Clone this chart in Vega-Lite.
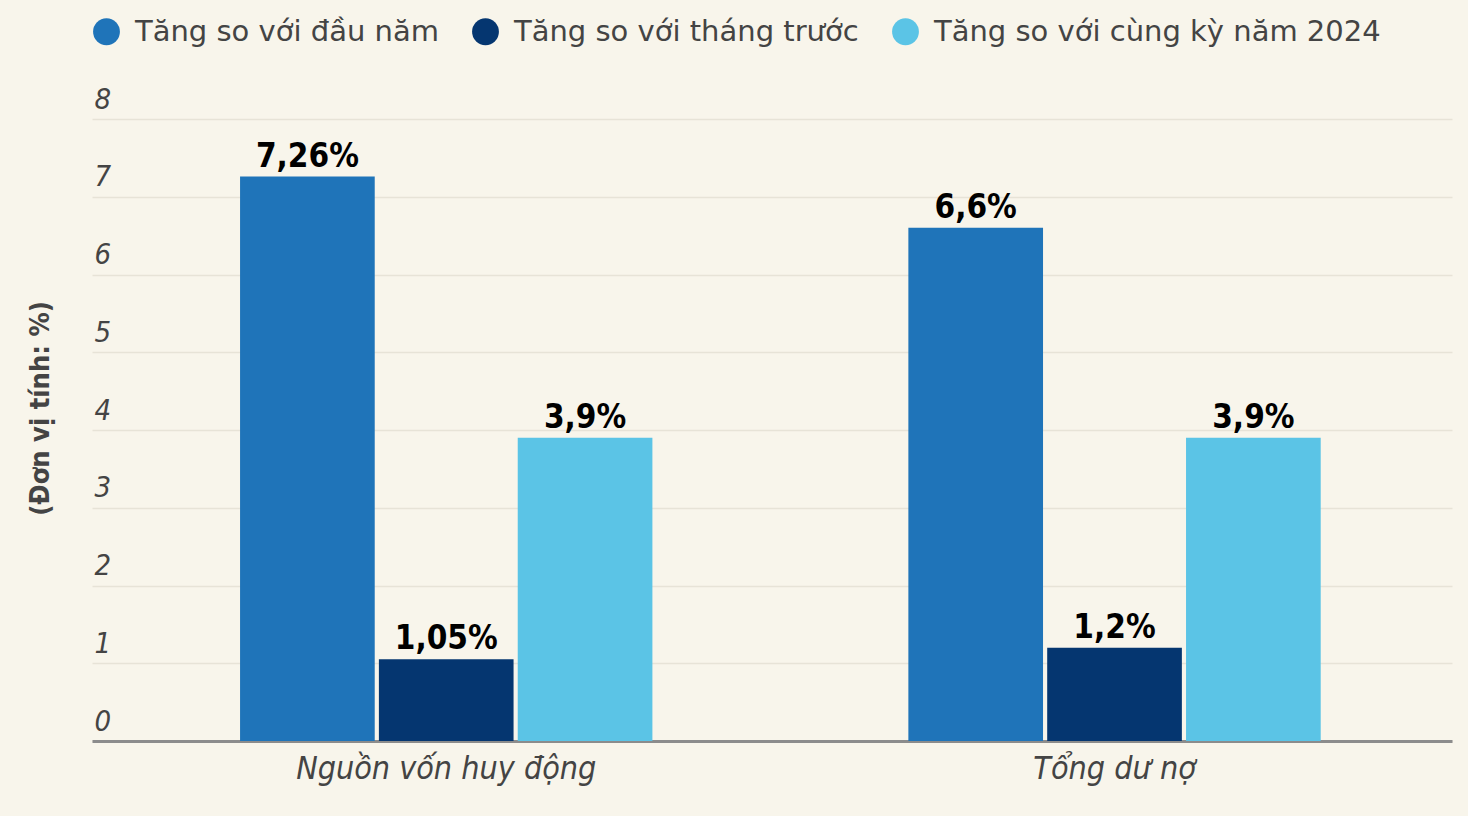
{
  "$schema": "https://vega.github.io/schema/vega-lite/v6.json",
  "width": 1360,
  "height": 622,
  "autosize": {"type": "none"},
  "padding": {"left": 92, "top": 119, "right": 16, "bottom": 75},
  "background": "#f8f5eb",
  "config": {
    "view": {"stroke": null},
    "font": "Open Sans"
  },
  "data": {
    "values": [
      {"nhom": "Nguồn vốn huy động", "chi_tieu": "Tăng so với đầu năm", "gia_tri": 7.26},
      {"nhom": "Nguồn vốn huy động", "chi_tieu": "Tăng so với tháng trước", "gia_tri": 1.05},
      {"nhom": "Nguồn vốn huy động", "chi_tieu": "Tăng so với cùng kỳ năm 2024", "gia_tri": 3.9},
      {"nhom": "Tổng dư nợ", "chi_tieu": "Tăng so với đầu năm", "gia_tri": 6.6},
      {"nhom": "Tổng dư nợ", "chi_tieu": "Tăng so với tháng trước", "gia_tri": 1.2},
      {"nhom": "Tổng dư nợ", "chi_tieu": "Tăng so với cùng kỳ năm 2024", "gia_tri": 3.9}
    ]
  },
  "transform": [
    {"calculate": "replace(format(datum.gia_tri, '.2~f'), '.', ',') + '%'", "as": "nhan"}
  ],
  "encoding": {
    "x": {
      "field": "nhom",
      "type": "nominal",
      "sort": null,
      "scale": {"paddingInner": 0.383, "paddingOuter": 0.209, "align": 0.53},
      "axis": {
        "title": null,
        "labelAngle": 0,
        "labelFontSize": 32,
        "labelFont": "DejaVu Sans Condensed",
        "labelFontStyle": "italic",
        "labelColor": "#444444",
        "labelPadding": 12,
        "labelLimit": 800,
        "ticks": false,
        "domainColor": "#8c8c8c",
        "domainWidth": 3
      }
    },
    "xOffset": {
      "field": "chi_tieu",
      "type": "nominal",
      "sort": null,
      "scale": {"paddingInner": 0.03}
    },
    "y": {
      "field": "gia_tri",
      "type": "quantitative",
      "scale": {"domain": [0, 8], "nice": false},
      "axis": {
        "title": "(Đơn vị tính: %)",
        "titleFont": "DejaVu Sans Condensed",
        "titleFontSize": 27,
        "titleFontWeight": "bold",
        "titleColor": "#444444",
        "titlePadding": 38,
        "titleY": 289,
        "values": [0, 1, 2, 3, 4, 5, 6, 7, 8],
        "domain": false,
        "ticks": false,
        "labelAlign": "left",
        "labelPadding": -2,
        "labelBaseline": "alphabetic",
        "labelOffset": -11,
        "labelFontSize": 29,
        "labelFont": "DejaVu Sans Condensed",
        "labelFontStyle": "italic",
        "labelColor": "#444444",
        "gridColor": "#e7e3d7",
        "gridWidth": 1.5
      }
    }
  },
  "layer": [
    {
      "mark": {"type": "bar"},
      "encoding": {
        "color": {
          "field": "chi_tieu",
          "type": "nominal",
          "sort": null,
          "scale": {"range": ["#1f74b9", "#053670", "#5bc4e6"]},
          "legend": {
            "title": null,
            "orient": "top",
            "offset": 72,
            "direction": "horizontal",
            "symbolType": "circle",
            "symbolSize": 720,
            "symbolStrokeWidth": 0,
            "labelFontSize": 29,
            "labelColor": "#444444",
            "labelFont": "DejaVu Sans",
            "columnPadding": 32,
            "labelOffset": 14,
            "labelLimit": 600
          }
        }
      }
    },
    {
      "mark": {
        "type": "text",
        "baseline": "bottom",
        "dy": -3,
        "font": "DejaVu Sans Condensed",
        "fontWeight": "bold",
        "fontSize": 33,
        "color": "#000000"
      },
      "encoding": {
        "text": {"field": "nhan"}
      }
    }
  ]
}
